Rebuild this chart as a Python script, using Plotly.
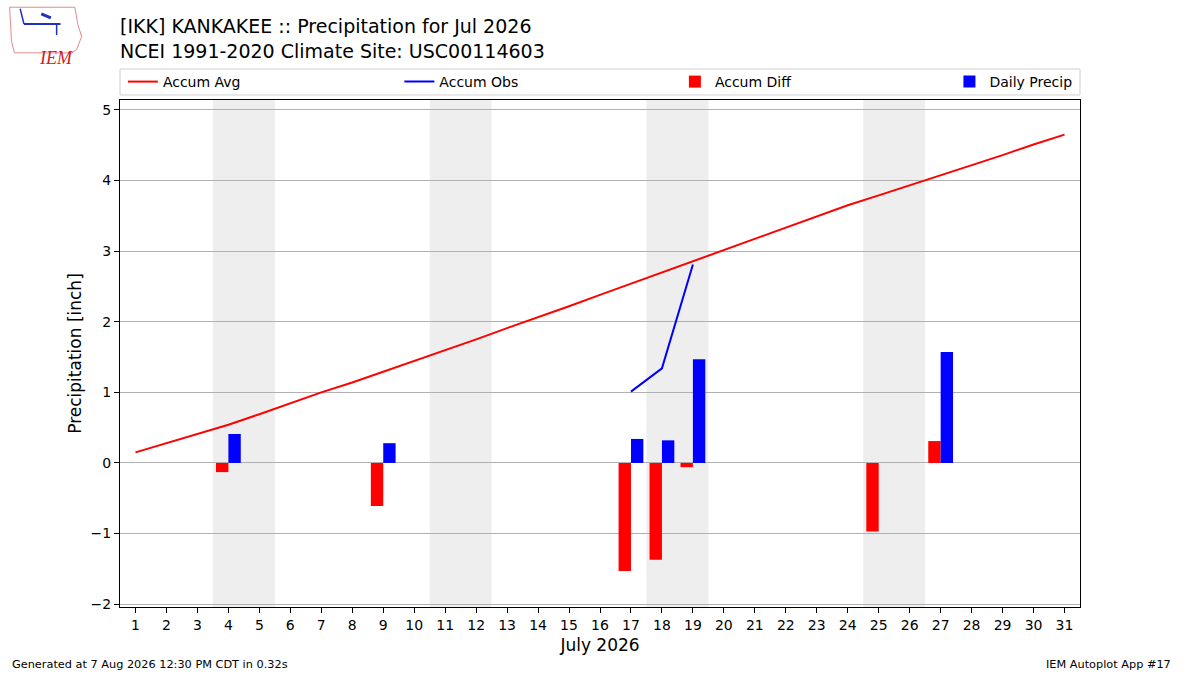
import plotly.graph_objects as go

# daily climatology + observations, Kankakee Jul 2026
days = list(range(1, 32))
accum_avg = [0.15, 0.28, 0.41, 0.54, 0.69, 0.85, 1.00, 1.14, 1.29, 1.44,
             1.60, 1.75, 1.91, 2.06, 2.22, 2.38, 2.54, 2.70, 2.85, 3.01,
             3.17, 3.33, 3.49, 3.65, 3.79, 3.93, 4.07, 4.22, 4.36, 4.51, 4.65]

obs_days = [17, 18, 19]
accum_obs = [1.01, 1.34, 2.81]

precip_days = [4, 9, 17, 18, 19, 27]
daily_precip = [0.41, 0.28, 0.34, 0.32, 1.47, 1.57]

diff_days = [4, 9, 17, 18, 19, 25, 27]
accum_diff = [-0.13, -0.61, -1.53, -1.37, -0.06, -0.97, 0.31]

weekends = [(4, 5), (11, 12), (18, 19), (25, 26)]

y_ticks = [-2, -1, 0, 1, 2, 3, 4, 5]
y_ticktext = ["\u22122", "\u22121", "0", "1", "2", "3", "4", "5"]

FONT = "DejaVu Sans"

fig = go.Figure()

fig.add_trace(go.Scatter(x=days, y=accum_avg, mode="lines", name="Accum Avg",
                         line=dict(color="red", width=2), legend="legend", showlegend=True))
fig.add_trace(go.Scatter(x=obs_days, y=accum_obs, mode="lines", name="Accum Obs",
                         line=dict(color="blue", width=2), legend="legend2", showlegend=True))
fig.add_trace(go.Bar(x=diff_days, y=accum_diff, name="Accum Diff",
                     width=0.4, offset=-0.4, marker=dict(color="red", line_width=0),
                     legend="legend3", showlegend=True))
fig.add_trace(go.Bar(x=precip_days, y=daily_precip, name="Daily Precip",
                     width=0.4, offset=0, marker=dict(color="blue", line_width=0),
                     legend="legend4", showlegend=True))

# weekend shading
for a, b in weekends:
    fig.add_shape(type="rect", xref="x", yref="paper",
                  x0=a - 0.5, x1=b + 0.5, y0=0, y1=1,
                  fillcolor="#eeeeee", line_width=0, layer="below")

# legend frame (matplotlib style, spans the axes width)
fig.add_shape(type="rect", xref="paper", yref="paper",
              x0=0.0, x1=1.0, y0=1.0099, y1=1.0611,
              line=dict(color="#d0d0d0", width=1), fillcolor="rgba(0,0,0,0)")

# rough IEM logo
fig.add_shape(type="path", xref="paper", yref="paper",
              path="M -0.115 1.183 L -0.047 1.183 L -0.044 1.150 L -0.040 1.125 "
                   "L -0.045 1.100 L -0.050 1.093 L -0.110 1.093 L -0.113 1.115 Z",
              line=dict(color="#e88a8a", width=1), fillcolor="rgba(0,0,0,0)")
fig.add_annotation(xref="paper", yref="paper", x=-0.086, y=1.106, text="<i>IEM</i>",
                   showarrow=False, font=dict(family="Liberation Serif", size=18, color="#d02020"))
fig.add_shape(type="line", xref="paper", yref="paper",
              x0=-0.100, x1=-0.062, y0=1.150, y1=1.150, line=dict(color="#2030c0", width=2))
fig.add_shape(type="line", xref="paper", yref="paper",
              x0=-0.100, x1=-0.104, y0=1.150, y1=1.180, line=dict(color="#2030c0", width=1.5))
fig.add_shape(type="line", xref="paper", yref="paper",
              x0=-0.082, x1=-0.072, y0=1.170, y1=1.162, line=dict(color="#2030c0", width=3))
fig.add_shape(type="line", xref="paper", yref="paper",
              x0=-0.066, x1=-0.066, y0=1.150, y1=1.128, line=dict(color="#2030c0", width=1.5))

leg = dict(orientation="h", y=1.0355, yanchor="middle", xanchor="left",
           bgcolor="rgba(0,0,0,0)", borderwidth=0, visible=True,
           font=dict(family=FONT, size=14, color="black"))

fig.update_layout(
    width=1200, height=675,
    margin=dict(l=120, r=120, t=100, b=68, autoexpand=False),
    paper_bgcolor="white", plot_bgcolor="white",
    font=dict(family=FONT, size=14, color="black"),
    barmode="overlay",
    showlegend=True,
    title=dict(text="[IKK] KANKAKEE :: Precipitation for Jul 2026<br>NCEI 1991-2020 Climate Site: USC00114603",
               x=0.1, xref="container", xanchor="left",
               y=0.951, yref="container", yanchor="top",
               font=dict(family=FONT, size=19, color="black")),
    legend=dict(leg, x=0.003),
    legend2=dict(leg, x=0.291),
    legend3=dict(leg, x=0.578),
    legend4=dict(leg, x=0.864),
    xaxis=dict(range=[0.5, 31.5], tickmode="array", tickvals=days,
               ticks="outside", ticklen=5, tickcolor="black",
               showgrid=False, showline=True, linecolor="black", linewidth=1, mirror=True,
               zeroline=False,
               title=dict(text="July 2026", font=dict(family=FONT, size=17), standoff=7)),
    yaxis=dict(range=[-2.04, 5.14], tickmode="array", tickvals=y_ticks, ticktext=y_ticktext,
               ticks="outside", ticklen=5, tickcolor="black",
               showgrid=True, gridcolor="#b0b0b0", gridwidth=1,
               showline=True, linecolor="black", linewidth=1, mirror=True,
               zeroline=False,
               title=dict(text="Precipitation [inch]", font=dict(family=FONT, size=17), standoff=4)),
)

fig.add_annotation(xref="paper", yref="paper", x=-0.1146, y=-0.114, xanchor="left", yanchor="middle",
                   text="Generated at 7 Aug 2026 12:30 PM CDT in 0.32s", showarrow=False,
                   font=dict(family=FONT, size=11.3))
fig.add_annotation(xref="paper", yref="paper", x=1.0965, y=-0.114, xanchor="right", yanchor="middle",
                   text="IEM Autoplot App #17", showarrow=False,
                   font=dict(family=FONT, size=11.3))

# drop the default body margin so the figure sits at the window's corner
fig.write_html("out.html", config={"displayModeBar": False},
               post_script="document.body.style.margin='0';")
